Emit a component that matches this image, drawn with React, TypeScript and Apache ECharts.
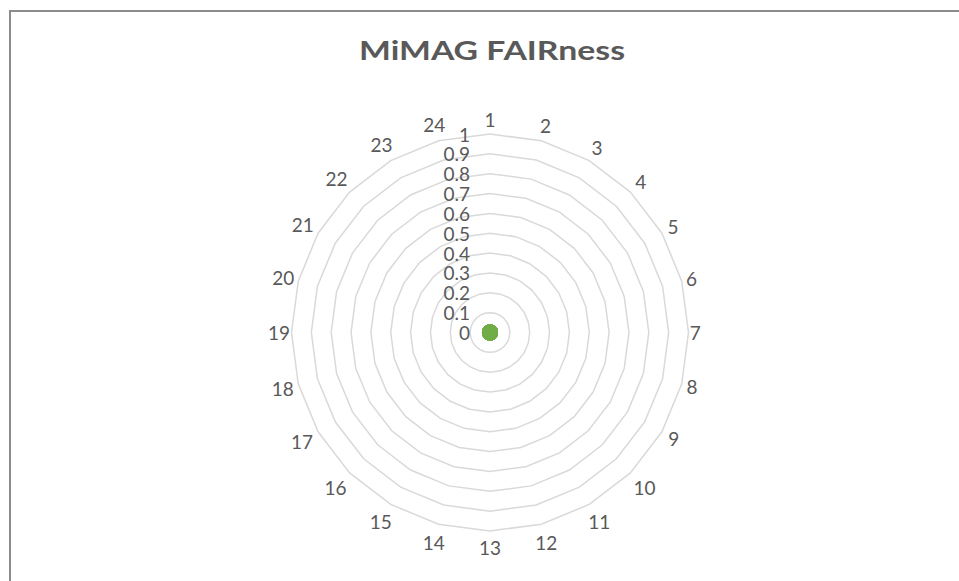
import React, { useEffect, useRef } from "react";
import * as echarts from "echarts";

const titleText = "MiMAG FAIRness";
const categories = ["1","2","3","4","5","6","7","8","9","10","11","12","13","14","15","16","17","18","19","20","21","22","23","24"];
const values = [0,0,0,0,0,0,0,0,0,0,0,0,0,0,0,0,0,0,0,0,0,0,0,0];
const axisMin = 0;
const axisMax = 1;
const splitCount = 10;

const TEXT = "#595959";
const FONT = "Lato";

export default function App() {
  const ref = useRef<HTMLDivElement>(null);
  useEffect(() => {
    document.body.style.margin = "0";
    const chart = echarts.init(ref.current!, null, { renderer: "svg" });
    const n = categories.length;
    // ECharts places indicators counter-clockwise; reorder so they read clockwise
    const order = [0, ...Array.from({ length: n - 1 }, (_, i) => n - 1 - i)];
    const indicator = order.map((idx, k) => {
      const name = categories[idx];
      const theta = ((90 + (k * 360) / n) * Math.PI) / 180;
      const c = Math.abs(Math.cos(theta));
      const s = Math.sin(theta);
      const halfW = 5.75 * name.length;
      const halfH = s > 0 ? 13.5 : 15.5;
      const gap = 1 + halfW * c + halfH * Math.abs(s);
      return {
        name,
        min: axisMin,
        max: axisMax,
        nameGap: gap,
        nameTextStyle: { align: "center", verticalAlign: "middle" },
        ...(k === 0 ? { axisLabel: { show: true } } : {}),
      };
    });
    const data = order.map((idx) => values[idx]);
    chart.setOption({
      animation: false,
      graphic: [
        {
          type: "rect",
          shape: { x: 10, y: 11, width: 1000, height: 1000 },
          style: { fill: "none", stroke: "#8c8c8c", lineWidth: 2 },
          silent: true,
        },
        {
          type: "text",
          x: 492,
          y: 50,
          scaleX: 1.25,
          style: {
            text: titleText,
            fontFamily: FONT,
            fontSize: 27,
            fontWeight: "bold",
            fill: TEXT,
            textAlign: "center",
            textVerticalAlign: "middle",
          },
          silent: true,
        },
      ],
      radar: {
        center: [490, 332.5],
        radius: 198.5,
        startAngle: 90,
        shape: "polygon",
        splitNumber: splitCount,
        indicator,
        axisName: { color: TEXT, fontFamily: FONT, fontSize: 19 },
        nameGap: 6,
        axisLine: { show: false },
        axisTick: { show: false },
        splitArea: { show: false },
        splitLine: { lineStyle: { color: "#d9d9d9", width: 1.5 } },
        axisLabel: { show: false, color: TEXT, fontFamily: FONT, fontSize: 19, margin: 20 },
      },
      series: [
        {
          type: "radar",
          symbol: "circle",
          symbolSize: 16,
          itemStyle: { color: "#70ad47" },
          lineStyle: { color: "#70ad47", width: 2 },
          data: [{ value: data, name: "FAIRness" }],
        },
      ],
    });
    return () => chart.dispose();
  }, []);
  return <div ref={ref} style={{ width: 959, height: 581 }} />;
}
